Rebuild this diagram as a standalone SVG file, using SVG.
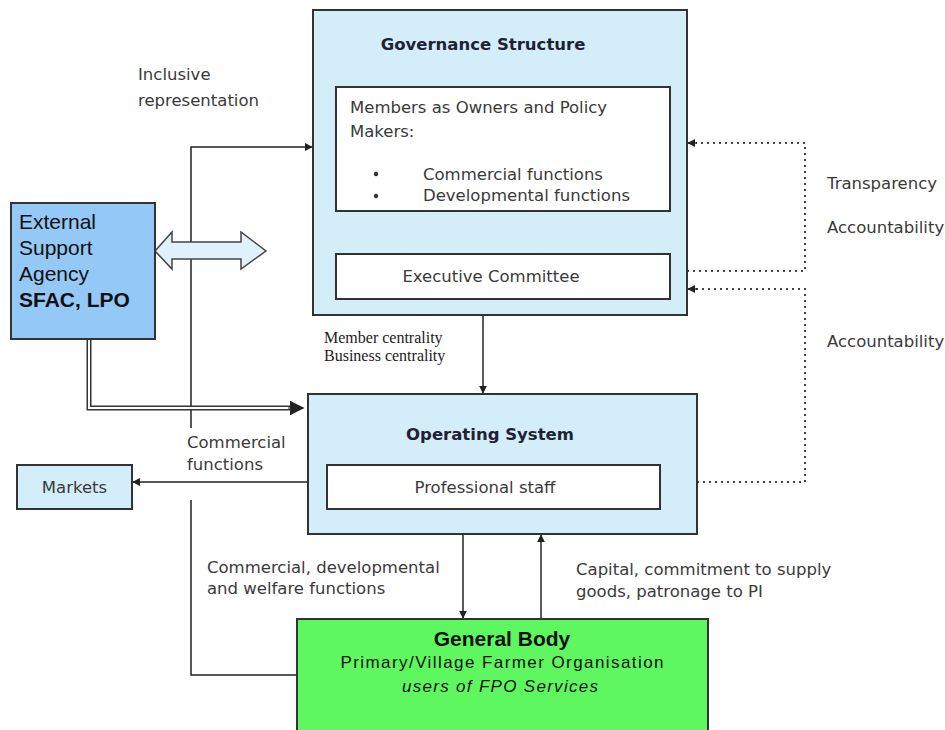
<svg xmlns="http://www.w3.org/2000/svg" width="945" height="730" viewBox="0 0 945 730">
<defs>
<style>
.box{fill:#d3edf9;stroke:#333;stroke-width:2}
.wbox{fill:#fff;stroke:#333;stroke-width:2}
.v{font-family:"DejaVu Sans",Verdana,sans-serif;font-size:16.5px;fill:#3a3a3a}
.vb{font-family:"DejaVu Sans",Verdana,sans-serif;font-size:16.5px;font-weight:bold;fill:#1f2233}
.a{font-family:"Liberation Sans",Arial,sans-serif;fill:#111}
.s{font-family:"Liberation Serif","Times New Roman",serif;font-size:16px;fill:#222}
.ln{fill:none;stroke:#222;stroke-width:1.5}
.dot{fill:none;stroke:#444;stroke-width:2;stroke-dasharray:2 4}
</style>
<marker id="ah" viewBox="0 0 10 10" refX="9" refY="5" markerWidth="8" markerHeight="8" markerUnits="userSpaceOnUse" orient="auto"><path d="M0,0 L10,5 L0,10 z" fill="#222"/></marker>
<marker id="ahb" viewBox="0 0 10 10" refX="9" refY="5" markerWidth="15" markerHeight="15" markerUnits="userSpaceOnUse" orient="auto"><path d="M0,0 L10,5 L0,10 z" fill="#222"/></marker>
</defs>

<g id="connectors">
<line class="ln" x1="483" y1="211" x2="483" y2="253" marker-end="url(#ah)"/>
<line class="ln" x1="483" y1="299" x2="483" y2="393" marker-end="url(#ah)"/>
<line class="ln" x1="463" y1="534" x2="463" y2="618" marker-end="url(#ah)"/>
<line class="ln" x1="541" y1="619" x2="541" y2="535" marker-end="url(#ah)"/>
<line class="ln" x1="308" y1="482" x2="133" y2="482" marker-end="url(#ah)"/>
<polyline class="ln" points="191,428 191,147 312,147" marker-end="url(#ah)"/>
<polyline class="ln" points="191,500 191,675 297,675"/>
<polyline fill="none" stroke="#333" stroke-width="5" points="89,339 89,408 290,408"/>
<polyline fill="none" stroke="#fff" stroke-width="2" points="89,339 89,408 290,408"/>
<line x1="288" y1="408" x2="303" y2="408" stroke="#222" stroke-width="1" marker-end="url(#ahb)"/>
<path d="M155,251 L172,232 L172,242 L241,242 L241,232 L266,251 L241,269 L241,259 L172,259 L172,269 Z" fill="#dff1fb" stroke="#444" stroke-width="1.5"/>
<polyline class="dot" points="687,271 805,271 805,143 696,143"/>
<line class="ln" x1="697" y1="143" x2="688" y2="143" marker-end="url(#ah)"/>
<polyline class="dot" points="697,482 805,482 805,289 696,289"/>
<line class="ln" x1="697" y1="289" x2="688" y2="289" marker-end="url(#ah)"/>
</g>

<g id="governance">
<rect class="box" x="313" y="10" width="374" height="305"/>
<text class="vb" x="483" y="50" text-anchor="middle">Governance Structure</text>
</g>
<g id="members">
<rect class="wbox" x="336" y="87" width="334" height="124"/>
<text class="v" x="350" y="113">Members as Owners and Policy</text>
<text class="v" x="350" y="137">Makers:</text>
<circle cx="376" cy="174" r="2.2" fill="#333"/>
<circle cx="376" cy="196" r="2.2" fill="#333"/>
<text class="v" x="423" y="180">Commercial functions</text>
<text class="v" x="423" y="201">Developmental functions</text>
</g>
<g id="executive">
<rect class="wbox" x="336" y="254" width="334" height="45"/>
<text class="v" x="491" y="282" text-anchor="middle">Executive Committee</text>
</g>

<g id="operating">
<rect class="box" x="308" y="394" width="389" height="140"/>
<text class="vb" x="490" y="440" text-anchor="middle">Operating System</text>
</g>
<g id="staff">
<rect class="wbox" x="327" y="465" width="333" height="44"/>
<text class="v" x="485" y="493" text-anchor="middle">Professional staff</text>
</g>

<g id="general-body">
<rect x="297" y="619" width="411" height="120" fill="#5ff75f" stroke="#333" stroke-width="2"/>
<text class="a" x="502" y="646" text-anchor="middle" font-size="21" font-weight="bold">General Body</text>
<text class="a" x="502" y="668" text-anchor="middle" font-size="17" textLength="323" lengthAdjust="spacing">Primary/Village Farmer Organisation</text>
<text class="a" x="500" y="692" text-anchor="middle" font-size="17" font-style="italic" textLength="196" lengthAdjust="spacing">users of FPO Services</text>
</g>

<g id="esa">
<rect x="11" y="203" width="144" height="136" fill="#94c8f7" stroke="#333" stroke-width="2"/>
<text class="a" x="19" y="229" font-size="21">External</text>
<text class="a" x="19" y="255" font-size="21">Support</text>
<text class="a" x="19" y="281" font-size="21">Agency</text>
<text class="a" x="19" y="307" font-size="21" font-weight="bold">SFAC, LPO</text>
</g>

<g id="markets">
<rect class="box" x="17" y="465" width="115" height="44"/>
<text class="v" x="74.5" y="493" text-anchor="middle">Markets</text>
</g>

<g id="labels">
<text class="v" x="138" y="80">Inclusive</text>
<text class="v" x="138" y="106">representation</text>
<text class="v" x="187" y="448">Commercial</text>
<text class="v" x="187" y="470">functions</text>
<text class="s" x="324" y="343">Member centrality</text>
<text class="s" x="324" y="361">Business centrality</text>
<text class="v" x="207" y="573">Commercial, developmental</text>
<text class="v" x="207" y="594">and welfare functions</text>
<text class="v" x="576" y="575">Capital, commitment to supply</text>
<text class="v" x="576" y="597">goods, patronage to PI</text>
<text class="v" x="827" y="189">Transparency</text>
<text class="v" x="827" y="233">Accountability</text>
<text class="v" x="827" y="347">Accountability</text>
</g>
</svg>
